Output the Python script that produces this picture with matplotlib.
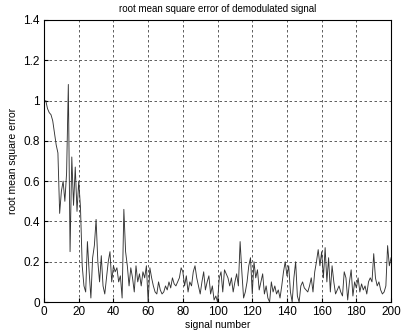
import numpy as np
import matplotlib
matplotlib.use('Agg')
import matplotlib.pyplot as plt

plt.rcParams['font.family'] = ['Liberation Sans', 'DejaVu Sans']

# rms error per signal (signal number 1..200)
rmse = [1.00, 0.96, 0.94, 0.93, 0.90, 0.84, 0.78, 0.74, 0.44, 0.55,
        0.60, 0.50, 0.64, 1.08, 0.25, 0.72, 0.48, 0.67, 0.45, 0.60,
        0.47, 0.18, 0.08, 0.05, 0.30, 0.15, 0.02, 0.22, 0.28, 0.41,
        0.20, 0.10, 0.23, 0.08, 0.04, 0.12, 0.20, 0.25, 0.10, 0.18,
        0.15, 0.17, 0.10, 0.13, 0.02, 0.46, 0.25, 0.18, 0.08, 0.17,
        0.12, 0.05, 0.18, 0.10, 0.14, 0.08, 0.15, 0.12, 0.18, 0.00,
        0.17, 0.12, 0.08, 0.05, 0.04, 0.10, 0.06, 0.04, 0.05, 0.08,
        0.06, 0.10, 0.07, 0.12, 0.09, 0.08, 0.10, 0.12, 0.17, 0.15,
        0.08, 0.13, 0.05, 0.10, 0.08, 0.15, 0.18, 0.12, 0.08, 0.04,
        0.10, 0.15, 0.06, 0.10, 0.13, 0.04, 0.08, 0.01, 0.03, 0.00,
        0.12, 0.15, 0.05, 0.16, 0.14, 0.12, 0.08, 0.12, 0.05, 0.10,
        0.14, 0.08, 0.30, 0.15, 0.02, 0.05, 0.10, 0.18, 0.22, 0.04,
        0.20, 0.12, 0.16, 0.06, 0.10, 0.14, 0.04, 0.08, 0.02, 0.00,
        0.10, 0.05, 0.08, 0.04, 0.06, 0.02, 0.08, 0.15, 0.20, 0.13,
        0.18, 0.05, 0.00, 0.12, 0.20, 0.03, 0.00, 0.08, 0.10, 0.07,
        0.06, 0.05, 0.08, 0.12, 0.05, 0.15, 0.20, 0.26, 0.18, 0.25,
        0.12, 0.27, 0.10, 0.22, 0.05, 0.18, 0.10, 0.04, 0.06, 0.08,
        0.05, 0.03, 0.15, 0.12, 0.01, 0.10, 0.16, 0.03, 0.10, 0.07,
        0.12, 0.05, 0.09, 0.06, 0.08, 0.04, 0.10, 0.12, 0.10, 0.24,
        0.12, 0.08, 0.10, 0.06, 0.04, 0.05, 0.08, 0.28, 0.18, 0.22]
signal_no = np.arange(1, len(rmse) + 1)

x_ticks = list(range(0, 201, 20))
y_ticks = [0, 0.2, 0.4, 0.6, 0.8, 1.0, 1.2, 1.4]
y_labels = ['0', '0.2', '0.4', '0.6', '0.8', '1', '1.2', '1.4']

fig = plt.figure(figsize=(4.04, 3.33), dpi=100)
ax = fig.add_axes([0.109, 0.093, 0.859, 0.847])

ax.plot(signal_no, rmse, color='#333333', linewidth=0.65)

ax.set_xlim(0, 200)
ax.set_ylim(0, 1.4)
ax.set_xticks(x_ticks)
ax.set_yticks(y_ticks)
ax.set_yticklabels(y_labels)
ax.tick_params(direction='in', length=3, labelsize=8.5, pad=3)
ax.grid(True, color='#444444', linestyle=(0, (3, 3)), linewidth=0.6)
for s in ax.spines.values():
    s.set_linewidth(0.8)

ax.set_title('root mean square error of demodulated signal', fontsize=7, pad=6)
ax.set_xlabel('signal number', fontsize=7.5, labelpad=1)
ax.set_ylabel('root mean square error', fontsize=7.5, labelpad=4)

fig.savefig('out.png', dpi=100)
